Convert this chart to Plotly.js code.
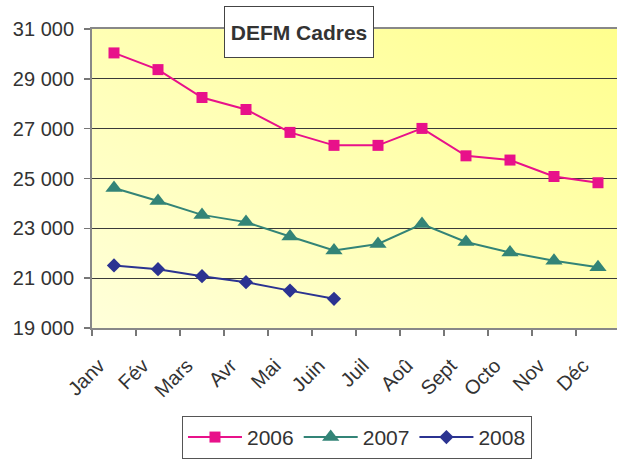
<!DOCTYPE html>
<html><head><meta charset="utf-8">
<script src="https://cdn.plot.ly/plotly-3.0.1.min.js"></script>
<style>html,body{margin:0;padding:0;background:#fff}#chart{width:617px;height:459px}</style>
</head><body><div id="chart"></div>
<script>
const months = ["Janv","Fév","Mars","Avr","Mai","Juin","Juil","Aoû","Sept","Octo","Nov","Déc"];
const v2006 = [30040,29370,28250,27770,26850,26330,26330,27010,25910,25740,25080,24830];
const v2007 = [24620,24100,23540,23250,22670,22110,22370,23170,22450,22030,21700,21440];
const v2008 = [21510,21360,21080,20840,20500,20170];
const yTicks = [19000,21000,23000,25000,27000,29000,31000];

const svg = "<svg xmlns='http://www.w3.org/2000/svg' width='100' height='100' viewBox='0 0 100 100' preserveAspectRatio='none'><defs><linearGradient id='g' x1='0' y1='1' x2='1' y2='0'><stop offset='0' stop-color='#FFFFDA'/><stop offset='0.5' stop-color='#FFFFB4'/><stop offset='1' stop-color='#FFFF8E'/></linearGradient></defs><rect width='100' height='100' fill='url(#g)'/></svg>";
const bg = 'data:image/svg+xml;base64,' + btoa(svg);

const traces = [
  {x: months, y: v2006, name: '2006', type: 'scatter', mode: 'lines+markers',
   line: {color: '#E8118A', width: 2}, marker: {symbol: 'square', size: 11, color: '#E8118A'}},
  {x: months, y: v2007, name: '2007', type: 'scatter', mode: 'lines+markers',
   line: {color: '#338477', width: 2}, marker: {symbol: 'triangle-up', size: 15, color: '#338477'}},
  {x: months.slice(0, v2008.length), y: v2008, name: '2008', type: 'scatter', mode: 'lines+markers',
   line: {color: '#2B3391', width: 2}, marker: {symbol: 'diamond', size: 11, color: '#2B3391'}}
];

const layout = {
  width: 617, height: 459,
  margin: {l: 92, r: 0, t: 29, b: 131},
  paper_bgcolor: '#ffffff', plot_bgcolor: 'rgba(0,0,0,0)',
  separators: ', ',
  font: {family: 'Liberation Sans, Arial, sans-serif', color: '#333333'},
  showlegend: true,
  xaxis: {
    type: 'category', range: [-0.5, 11.432], tickson: 'boundaries',
    ticks: 'outside', ticklen: 6, tickcolor: '#777', tickwidth: 1.5,
    showline: true, linecolor: '#888', linewidth: 2, mirror: true,
    showgrid: false, tickangle: -45, tickfont: {size: 20, color: '#333'},
    ticklabelstandoff: 16, ticklabelshift: -15,
    fixedrange: true
  },
  yaxis: {
    range: [19000, 31000], tickvals: yTicks, tickformat: ',d',
    ticks: 'outside', ticklen: 6, tickcolor: '#777', tickwidth: 1.5,
    showline: true, linecolor: '#888', linewidth: 2,
    showgrid: true, gridcolor: '#3a3a3a', gridwidth: 1,
    zeroline: false, tickfont: {size: 20, color: '#333'}, ticklabelstandoff: 6,
    fixedrange: true
  },
  legend: {orientation: 'h', x: 0.1714, y: -0.294, xanchor: 'left', yanchor: 'top',
    itemwidth: 54,
    bordercolor: '#555', borderwidth: 1, bgcolor: '#fff', font: {size: 21, color: '#333'}},
  images: [{source: bg, xref: 'paper', yref: 'paper', x: 0, y: 1, sizex: 1, sizey: 1,
    xanchor: 'left', yanchor: 'top', sizing: 'stretch', layer: 'below'}],
  annotations: [{text: '<b>DEFM Cadres</b>', xref: 'paper', yref: 'paper', x: 0.394, y: 0.99,
    xanchor: 'center', yanchor: 'middle', showarrow: false, width: 142, height: 44,
    font: {size: 21, color: '#333'}, bgcolor: '#ffffff', bordercolor: '#444', borderwidth: 1, borderpad: 3}]
};
Plotly.newPlot('chart', traces, layout, {displayModeBar: false, staticPlot: true});
</script></body></html>
